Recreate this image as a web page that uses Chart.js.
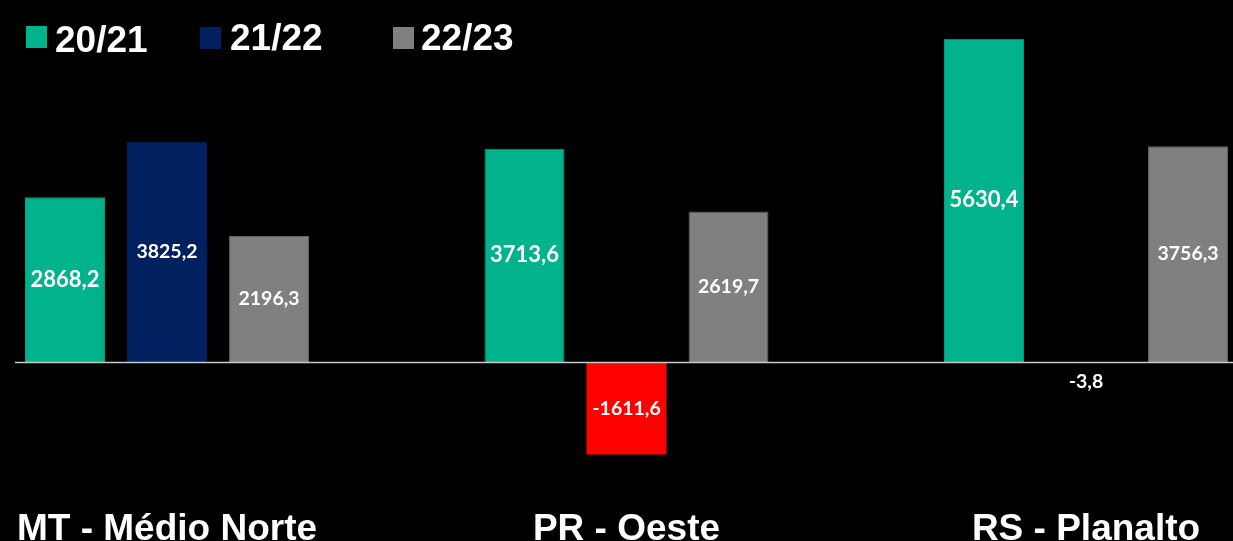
<!DOCTYPE html>
<html>
<head>
<meta charset="utf-8">
<script src="https://cdn.jsdelivr.net/npm/chart.js@4/dist/chart.umd.min.js"></script>
<style>
  html, body { margin: 0; padding: 0; background: #000; overflow: hidden; }
  #wrap { position: relative; width: 1233px; height: 541px; background: #000; overflow: hidden; }
  #c { position: absolute; left: 0; top: 0; }
  .lg { position: absolute; left: 0; top: 0; font-family: "Liberation Sans", Arial, sans-serif; font-weight: bold; font-size: 37px; color: #fff; line-height: 1; white-space: nowrap; }
  .lg .box { position: absolute; width: 21px; height: 22px; }
  .lg .txt { position: absolute; }
</style>
</head>
<body>
<div id="wrap">
  <canvas id="c" width="1233" height="552"></canvas>
  <div id="legend"></div>
</div>
<script>
// ---- data ----
const categories = ["MT - Médio Norte", "PR - Oeste", "RS - Planalto"];
const seriesNames = ["20/21", "21/22", "22/23"];
const values2021 = [2868.2, 3713.6, 5630.4];
const values2122 = [3825.2, -1611.6, -3.8];
const values2223 = [2196.3, 2619.7, 3756.3];

// ---- styles ----
const TEAL = "#00B38C", NAVY = "#002060", GRAY = "#808080", RED = "#FF0000";

const fmt = v => v.toFixed(1).replace('.', ',');

const zeroLine = {
  id: 'zeroLine',
  afterDatasetsDraw(chart) {
    const y = Math.round(chart.scales.y.getPixelForValue(0)) + 0.5;
    const ctx = chart.ctx;
    ctx.save();
    ctx.strokeStyle = '#c8c8c8';
    ctx.lineWidth = 1.5;
    ctx.beginPath();
    ctx.moveTo(15, y);
    ctx.lineTo(chart.width, y);
    ctx.stroke();
    ctx.restore();
  }
};

const valueLabels = {
  id: 'valueLabels',
  afterDatasetsDraw(chart) {
    const ctx = chart.ctx;
    ctx.save();
    ctx.textAlign = 'center';
    ctx.textBaseline = 'middle';
    ctx.fillStyle = '#ffffff';
    chart.data.datasets.forEach((ds, di) => {
      const meta = chart.getDatasetMeta(di);
      const size = di === 0 ? 22 : 19.5;
      ctx.font = 'bold ' + size + 'px Lato, "Open Sans", sans-serif';
      meta.data.forEach((bar, i) => {
        const v = ds.data[i];
        const h = Math.abs(bar.base - bar.y);
        let y = (bar.y + bar.base) / 2;
        if (h < 20) y = bar.base + 20;
        ctx.fillText(fmt(v), bar.x, y);
      });
    });
    ctx.restore();
  }
};

const chart = new Chart(document.getElementById('c'), {
  type: 'bar',
  data: {
    labels: categories,
    datasets: [
      { label: seriesNames[0], data: values2021, backgroundColor: TEAL, borderColor: '#00A07D', borderWidth: 1, borderSkipped: 'bottom' },
      { label: seriesNames[1], data: values2122, backgroundColor: [NAVY, RED, '#4472C4'], borderWidth: 0, minBarLength: 1 },
      { label: seriesNames[2], data: values2223, backgroundColor: GRAY, borderColor: '#5f5f5f', borderWidth: 1, borderSkipped: 'bottom' }
    ]
  },
  options: {
    responsive: false,
    animation: false,
    layout: { padding: { left: 167, right: 147, top: 17.5, bottom: 0 } },
    datasets: { bar: { categoryPercentage: 0.666, barPercentage: 0.784, clip: false } },
    plugins: {
      legend: { display: false },
      tooltip: { enabled: false }
    },
    scales: {
      x: {
        offset: false,
        grid: { display: false, drawTicks: false },
        border: { display: false },
        ticks: {
          color: '#ffffff',
          font: { family: '"Liberation Sans", Arial, sans-serif', size: 37, weight: 'bold', lineHeight: 1.2 },
          padding: 0,
          maxRotation: 0,
          autoSkip: false
        }
      },
      y: {
        display: false,
        min: -2536,
        max: 6000
      }
    }
  },
  plugins: [zeroLine, valueLabels]
});

// ---- HTML legend built from the datasets ----
const legendPos = [ { box: 26, by: 26, txt: 55, ty: 20.6 }, { box: 200, by: 27, txt: 230, ty: 18.6 }, { box: 393, by: 27, txt: 421, ty: 18.6 } ];
const legendEl = document.getElementById('legend');
chart.data.datasets.forEach((ds, i) => {
  const p = legendPos[i];
  const col = Array.isArray(ds.backgroundColor) ? ds.backgroundColor[0] : ds.backgroundColor;
  const item = document.createElement('div');
  item.className = 'lg';
  item.innerHTML = '<div class="box" style="left:' + p.box + 'px;top:' + p.by + 'px;background:' + col + '"></div>' +
                   '<div class="txt" style="left:' + p.txt + 'px;top:' + p.ty + 'px">' + ds.label + '</div>';
  legendEl.appendChild(item);
});
</script>
</body>
</html>
